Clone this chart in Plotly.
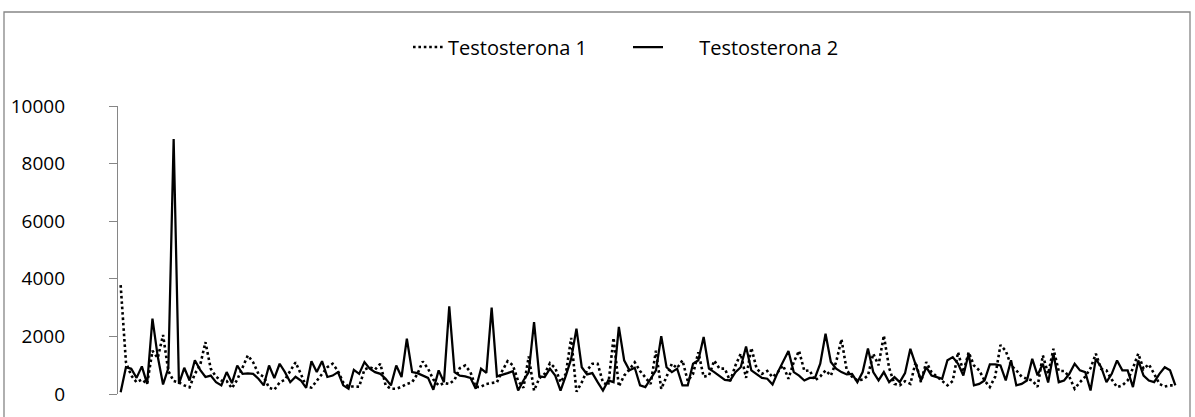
import plotly.graph_objects as go

series_names = ["Testosterona 1", "Testosterona 2"]

testosterona_1 = [
    3780, 1100, 640, 410, 500, 350, 1500, 1250, 2050, 800,
    450, 400, 300, 230, 700, 1000, 1800, 880, 600, 470,
    450, 200, 500, 900, 1340, 1100, 700, 600, 220, 150,
    400, 500, 820, 1100, 700, 260, 220, 450, 700, 930,
    1050, 800, 400, 260, 260, 250, 850, 930, 850, 1050,
    300, 180, 180, 250, 350, 410, 700, 1130, 880, 500,
    300, 380, 350, 490, 900, 990, 760, 240, 250, 350,
    380, 410, 800, 1140, 1000, 450, 215, 1300, 120, 550,
    700, 1070, 900, 410, 700, 1950, 80, 400, 820, 1050,
    1050, 400, 300, 1950, 260, 640, 850, 1100, 800, 585,
    350, 1500, 180, 600, 1050, 900, 1170, 450, 700, 1450,
    600, 640, 1160, 880, 880, 450, 990, 1400, 560, 1600,
    880, 700, 800, 585, 760, 990, 530, 1110, 1500, 800,
    820, 470, 610, 820, 640, 1110, 1900, 820, 600, 470,
    500, 640, 1400, 1000, 2030, 900, 350, 300, 445, 350,
    1110, 410, 1110, 760, 600, 450, 300, 450, 1450, 760,
    1450, 990, 820, 470, 240, 600, 1700, 1500, 990, 820,
    600, 530, 470, 250, 1340, 700, 1570, 800, 800, 600,
    180, 410, 600, 900, 1400, 870, 820, 500, 240, 300,
    470, 900, 1400, 870, 1030, 700, 350, 260, 300, 300,
]

testosterona_2 = [
    60, 930, 875, 560, 960, 350, 2620, 1300, 330, 900,
    8850, 350, 910, 470, 1170, 840, 590, 640, 410, 300,
    760, 380, 990, 700, 720, 700, 530, 300, 990, 550,
    1050, 760, 410, 600, 470, 215, 1140, 760, 1140, 590,
    640, 760, 300, 180, 840, 700, 1110, 880, 760, 700,
    530, 300, 990, 590, 1920, 760, 725, 640, 560, 145,
    820, 410, 3045, 760, 640, 610, 560, 180, 880, 730,
    3000, 610, 680, 725, 790, 120, 470, 760, 2500, 610,
    585, 880, 640, 120, 640, 1220, 2270, 930, 680, 725,
    410, 120, 470, 410, 2330, 1170, 820, 910, 300, 240,
    530, 820, 2010, 930, 760, 880, 300, 300, 1050, 1170,
    1980, 880, 760, 610, 490, 470, 760, 930, 1650, 820,
    680, 560, 530, 330, 760, 1110, 1490, 760, 640, 470,
    560, 560, 1050, 2090, 1110, 880, 760, 680, 700, 410,
    760, 1580, 760, 470, 760, 410, 585, 410, 725, 1570,
    990, 470, 930, 640, 585, 530, 1170, 1280, 1050, 640,
    1400, 300, 350, 470, 1030, 1030, 990, 470, 1170, 300,
    350, 470, 1220, 650, 1050, 400, 1400, 410, 470, 700,
    1050, 820, 760, 120, 1220, 930, 410, 700, 1165, 820,
    820, 240, 1165, 640, 470, 410, 700, 930, 820, 300,
]

y_ticks = [0, 2000, 4000, 6000, 8000, 10000]
x_index = list(range(len(testosterona_2)))

FONT = "Open Sans"
GREY = "#868686"
GAP = "\u00a0" * 6

fig = go.Figure()
fig.add_trace(go.Scatter(
    x=x_index, y=testosterona_1, mode="lines", name=series_names[0],
    line=dict(color="black", width=2.6, dash="2.6px,2.8px"), legend="legend",
))
fig.add_trace(go.Scatter(
    x=x_index, y=testosterona_2, mode="lines", name=GAP + series_names[1],
    line=dict(color="black", width=2.25), legend="legend2",
))

W, H = 1195, 417
L, R, T, B = 118, 17, 106, 23
pw = W - L - R
ph = H - T - B

def px_x(p):
    return (p - L) / pw

def px_y(p):
    return (H - B - p) / ph

fig.update_layout(
    width=W, height=H,
    margin=dict(l=L, r=R, t=T, b=B, autoexpand=False),
    paper_bgcolor="white", plot_bgcolor="white",
    font=dict(family=FONT, size=19, color="black"),
    showlegend=True,
    legend=dict(x=px_x(408), y=px_y(47), xanchor="left", yanchor="middle",
                orientation="h", bgcolor="rgba(0,0,0,0)",
                font=dict(family=FONT, size=20, color="black")),
    legend2=dict(x=px_x(628), y=px_y(47), xanchor="left", yanchor="middle",
                 orientation="h", bgcolor="rgba(0,0,0,0)",
                 font=dict(family=FONT, size=20, color="black")),
    xaxis=dict(range=[-0.5, len(x_index) - 0.5], showticklabels=False,
               showgrid=False, zeroline=False, showline=False, ticks=""),
    yaxis=dict(range=[0, 10000], tickvals=y_ticks,
               ticktext=[str(v) for v in y_ticks],
               showgrid=False, zeroline=False, showline=True,
               linecolor=GREY, linewidth=1.3, ticks="outside", ticklen=8,
               tickcolor=GREY, tickwidth=1.3, ticklabelstandoff=40,
               tickfont=dict(family=FONT, size=19, color="black")),
    shapes=[dict(type="rect", xref="paper", yref="paper",
                 x0=px_x(4), x1=px_x(1190), y0=px_y(425), y1=px_y(12),
                 line=dict(color=GREY, width=1.3), layer="below",
                 fillcolor="rgba(0,0,0,0)")],
)

fig.write_html("out.html", config={"displayModeBar": False},
               post_script="document.body.style.margin='0';document.body.style.overflow='hidden';")
